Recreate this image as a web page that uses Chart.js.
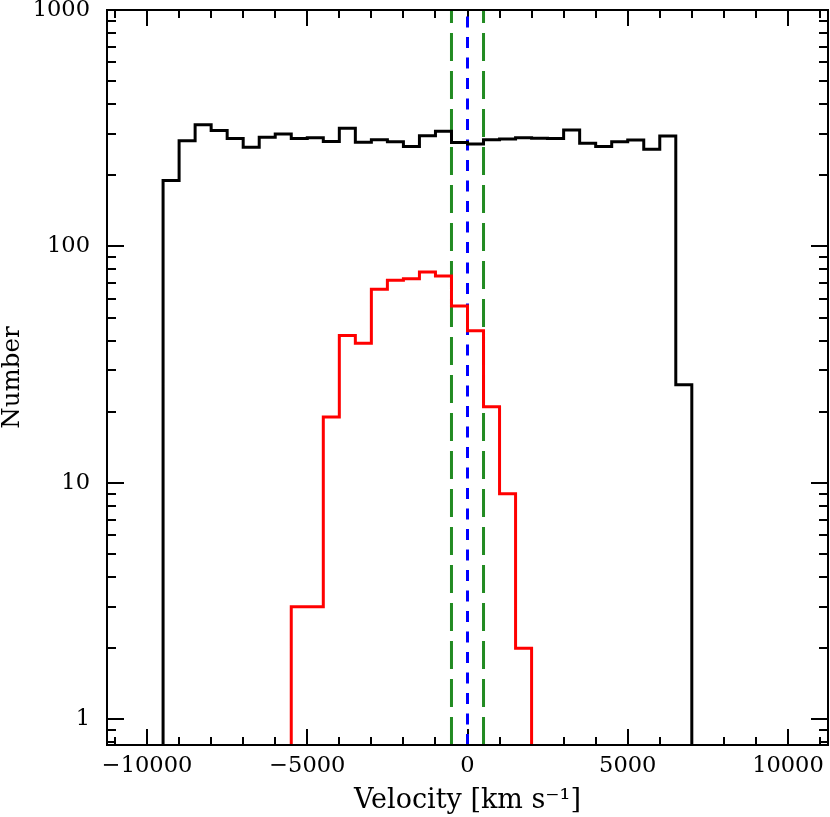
<!DOCTYPE html>
<html>
<head>
<meta charset="utf-8">
<script src="https://cdn.jsdelivr.net/npm/chart.js@4.4.1/dist/chart.umd.min.js"></script>
<style>
  html, body { margin: 0; padding: 0; background: #fff; }
  #wrap { width: 830px; height: 817px; }
</style>
</head>
<body>
<div id="wrap"><canvas id="c" width="830" height="817"></canvas></div>
<script>
// ---- data ----
const BIN_WIDTH = 500;                 // km/s per bin
const ALL_BIN_START = -9500;           // left edge of first black bin
const ALL_COUNTS = [190, 280, 327, 309, 286, 263, 290, 299, 286, 288, 278, 316,
                    276, 283, 277, 265, 294, 307, 275, 271, 283, 285, 288, 287,
                    286, 311, 273, 265, 277, 282, 258, 293, 26];
const SEL_BIN_START = -5500;           // left edge of first red bin
const SEL_COUNTS = [3, 3, 19, 42, 39, 66, 72, 73, 78, 75, 56, 44, 21, 9, 2];
const GREEN_LINES = [-500, 500];
const BLUE_LINES = [0];

const X_MIN = -11250, X_MAX = 11250;
const Y_MIN = 0.78, Y_MAX = 1000;
const X_MAJOR_TICKS = [-10000, -5000, 0, 5000, 10000];
const X_MINOR_STEP = 1000;
const Y_MAJOR_TICKS = [1, 10, 100, 1000];
const X_TITLE = 'Velocity [km s\u207B\u00B9]';
const Y_TITLE = 'Number';

const FONT = '"DejaVu Serif", serif';

// build step outlines from the bin counts
function histPoints(start, counts) {
  const floor = Y_MIN / 10;
  const pts = [{ x: start, y: floor }];
  counts.forEach((c, i) => pts.push({ x: start + i * BIN_WIDTH, y: c }));
  pts.push({ x: start + counts.length * BIN_WIDTH, y: floor });
  return pts;
}
function vline(x) {
  return [{ x: x, y: Y_MIN }, { x: x, y: Y_MAX }];
}

const datasets = [
  { data: histPoints(ALL_BIN_START, ALL_COUNTS), borderColor: '#000000', borderWidth: 3, stepped: 'before' },
  { data: histPoints(SEL_BIN_START, SEL_COUNTS), borderColor: '#ff0000', borderWidth: 3, stepped: 'before' },
  ...GREEN_LINES.map(x => ({ data: vline(x), borderColor: '#228b22', borderWidth: 3, borderDash: [28, 10] })),
  ...BLUE_LINES.map(x => ({ data: vline(x), borderColor: '#0000ff', borderWidth: 3, borderDash: [11, 9.5] }))
].map(d => Object.assign({ pointRadius: 0, fill: false, tension: 0, clip: 0, borderCapStyle: 'butt' }, d));

// inward tick marks + frame, positioned with the chart's own scales
const frameTicks = {
  id: 'frameTicks',
  beforeDatasetsDraw(chart) {
    const { ctx, chartArea: a, scales } = chart;
    const xs = scales.x, ys = scales.y;
    ctx.save();
    ctx.strokeStyle = '#000';
    ctx.lineWidth = 2;
    ctx.beginPath();
    const MAJ = 16, MIN = 8;
    for (let v = Math.ceil(X_MIN / X_MINOR_STEP) * X_MINOR_STEP; v <= X_MAX; v += X_MINOR_STEP) {
      const len = X_MAJOR_TICKS.includes(v) ? MAJ : MIN;
      const px = Math.round(xs.getPixelForValue(v));
      ctx.moveTo(px, a.bottom); ctx.lineTo(px, a.bottom - len);
      ctx.moveTo(px, a.top); ctx.lineTo(px, a.top + len);
    }
    for (let e = -1; e <= 3; e++) {
      for (let m = 1; m <= 9; m++) {
        const v = m * Math.pow(10, e);
        if (v < Y_MIN || v > Y_MAX) continue;
        const len = m === 1 ? MAJ + 1 : MIN + 1;
        const py = Math.round(ys.getPixelForValue(v));
        ctx.moveTo(a.left, py); ctx.lineTo(a.left + len, py);
        ctx.moveTo(a.right, py); ctx.lineTo(a.right - len, py);
      }
    }
    ctx.stroke();
    ctx.restore();
  },
  afterDatasetsDraw(chart) {
    const { ctx, chartArea: a } = chart;
    ctx.save();
    ctx.strokeStyle = '#000';
    ctx.lineWidth = 2;
    ctx.strokeRect(a.left, a.top, a.right - a.left, a.bottom - a.top);
    ctx.restore();
  }
};

new Chart(document.getElementById('c'), {
  type: 'line',
  data: { datasets },
  plugins: [frameTicks],
  options: {
    responsive: false,
    devicePixelRatio: 1,
    animation: false,
    events: [],
    layout: { padding: { left: 0, top: 10, right: 2, bottom: 0 } },
    plugins: { legend: { display: false }, tooltip: { enabled: false } },
    scales: {
      x: {
        type: 'linear',
        min: X_MIN, max: X_MAX,
        grid: { display: false, drawTicks: false },
        border: { display: false },
        afterBuildTicks: s => { s.ticks = X_MAJOR_TICKS.map(v => ({ value: v })); },
        afterFit: s => { s.height = 72; s.paddingLeft = 0; s.paddingRight = 0; },
        ticks: {
          autoSkip: false, maxRotation: 0, padding: 8, color: '#000',
          font: { family: FONT, size: 22.5 },
          callback: v => (v < 0 ? '\u2212' + Math.abs(v) : String(v))
        },
        title: {
          display: true, text: X_TITLE, color: '#000',
          font: { family: FONT, size: 27, lineHeight: 1 },
          padding: { top: 0, bottom: 3 }
        }
      },
      y: {
        type: 'logarithmic',
        min: Y_MIN, max: Y_MAX,
        grid: { display: false, drawTicks: false },
        border: { display: false },
        afterBuildTicks: s => { s.ticks = Y_MAJOR_TICKS.map(v => ({ value: v })); },
        afterFit: s => { s.width = 107; s.paddingTop = 0; s.paddingBottom = 0; },
        ticks: {
          autoSkip: false, padding: 17, color: '#000',
          font: { family: FONT, size: 22.5 },
          callback: v => String(v)
        },
        title: {
          display: true, text: Y_TITLE, color: '#000',
          font: { family: FONT, size: 24.5, lineHeight: 1 },
          padding: { top: 0, bottom: 0 }
        }
      }
    }
  }
});
</script>
</body>
</html>
